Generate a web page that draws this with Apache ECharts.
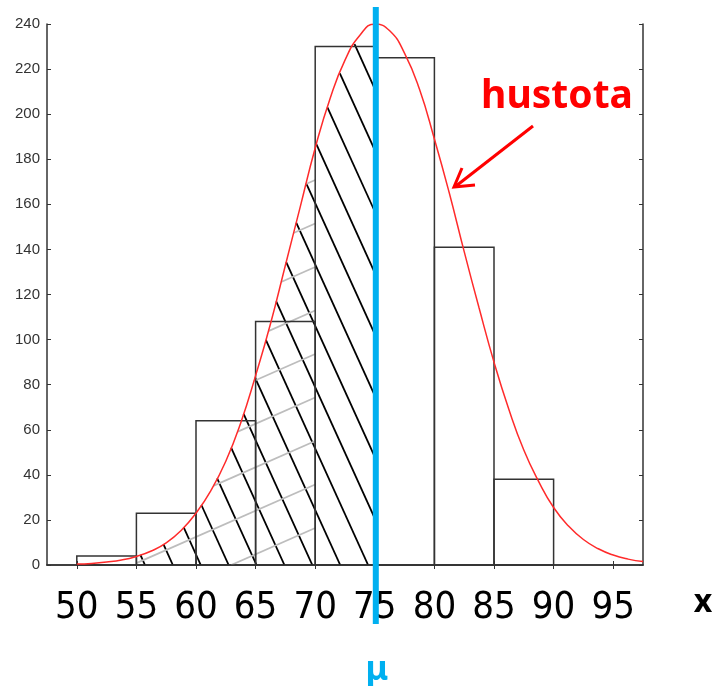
<!DOCTYPE html>
<html><head><meta charset="utf-8">
<script src="https://cdn.jsdelivr.net/npm/echarts@6/dist/echarts.min.js"></script>
<style>html,body{margin:0;padding:0;background:#fff}#c{width:713px;height:686px}</style>
</head><body><div id="c"></div>
<script>
// histogram bins
const binStart = [50, 55, 60, 65, 70, 75, 80, 85];
const binEnd   = [55, 60, 65, 70, 75, 80, 85, 90];
const counts   = [4, 23, 64, 108, 230, 225, 141, 38];
// density curve
const curveX = [50, 51.25, 52.5, 53.75, 55, 56.25, 57.5, 58.75, 60, 61.25, 62.5, 63.75, 65, 66.25, 67.5, 68.75, 70, 71.25, 72.5, 73.75, 75, 76.25, 77.5, 78.75, 80, 81.25, 82.5, 83.75, 85, 86.25, 87.5, 88.75, 90, 91.25, 92.5, 93.75, 95, 96.25, 97.5];
const curveY = [0.4, 0.7, 1.3, 2.2, 3.8, 6.2, 9.8, 15.3, 23, 33, 46, 63, 84, 107, 133, 159, 185, 207, 224, 235, 240, 237, 227, 211, 189, 165, 139, 114, 90, 69, 51, 37, 25.5, 17.3, 11.3, 7.2, 4.4, 2.6, 1.5];
// axis ticks
const xTicks = [50, 55, 60, 65, 70, 75, 80, 85, 90, 95];
const yMin = 0, yMax = 240, yStep = 20;
const xMin = 47.5, xMax = 97.5;
const mu = 75;
// shaded regions
const blackFrom = 55, blackTo = 75;
const grayFrom = 55, grayTo = 70;
const blackBottoms = [55.72, 58.06, 60.4, 62.74, 65.08, 67.42, 69.76, 72.1, 74.44, 76.78, 79.12, 81.46, 83.8, 86.14, 88.48, 90.82, 93.16, 95.5];
const grayAt70 = [-2.9, 16.4, 35.7, 55, 74.3, 93.6, 112.9, 132.2, 151.5, 170.8];

const chart = echarts.init(document.getElementById('c'));

function cross(a, b) { return a[0] * b[1] - a[1] * b[0]; }
function clipLine(A, D, poly) {
  const ts = [];
  for (let i = 0; i < poly.length; i++) {
    const E0 = poly[i], E1 = poly[(i + 1) % poly.length];
    const F = [E1[0] - E0[0], E1[1] - E0[1]];
    const den = cross(D, F);
    if (Math.abs(den) < 1e-9) continue;
    const W = [E0[0] - A[0], E0[1] - A[1]];
    const t = cross(W, F) / den;
    const s = cross(W, D) / den;
    if (s >= 0 && s < 1) ts.push(t);
  }
  ts.sort((a, b) => a - b);
  const segs = [];
  for (let i = 0; i + 1 < ts.length; i += 2) {
    segs.push([[A[0] + ts[i] * D[0], A[1] + ts[i] * D[1]], [A[0] + ts[i + 1] * D[0], A[1] + ts[i + 1] * D[1]]]);
  }
  return segs;
}
function regionPoly(api, from, to) {
  const poly = [api.coord([from, 0])];
  for (let i = 0; i < curveX.length; i++) {
    if (curveX[i] >= from && curveX[i] <= to) poly.push(api.coord([curveX[i], curveY[i]]));
  }
  poly.push(api.coord([to, 0]));
  return poly;
}

const labelFont = '"Liberation Sans Narrow", "DejaVu Sans Condensed", "Noto Sans"';

const option = {
  animation: false,
  backgroundColor: '#fff',
  grid: { left: 47, right: 70, top: 24, bottom: 121 },
  xAxis: [
    {
      type: 'value', min: xMin, max: xMax, position: 'bottom',
      axisLine: { show: true, lineStyle: { color: '#333', width: 1.5 } },
      axisTick: { show: true, inside: true, length: 4, customValues: xTicks, lineStyle: { color: '#333' } },
      axisLabel: { show: true, customValues: xTicks, margin: 24, fontFamily: labelFont, fontSize: 38, color: '#000' },
      splitLine: { show: false }
    },
    {
      type: 'value', min: xMin, max: xMax, position: 'top',
      axisLine: { show: true, lineStyle: { color: '#333', width: 1.5 } },
      axisTick: { show: true, inside: true, length: 4, customValues: xTicks, lineStyle: { color: '#333' } },
      axisLabel: { show: false },
      splitLine: { show: false }
    }
  ],
  yAxis: [
    {
      type: 'value', min: yMin, max: yMax, interval: yStep, position: 'left',
      axisLine: { show: true, lineStyle: { color: '#333', width: 1.5 } },
      axisTick: { show: true, inside: true, length: 4, lineStyle: { color: '#333' } },
      axisLabel: { margin: 7, fontFamily: 'Liberation Sans', fontSize: 15, color: '#333' },
      splitLine: { show: false }
    },
    {
      type: 'value', min: yMin, max: yMax, interval: yStep, position: 'right',
      axisLine: { show: true, lineStyle: { color: '#333', width: 1.5 } },
      axisTick: { show: true, inside: true, length: 4, lineStyle: { color: '#333' } },
      axisLabel: { show: false },
      splitLine: { show: false }
    }
  ],
  series: [
    {
      type: 'custom', name: 'hatch', silent: true, clip: true, z: 1,
      data: [[blackFrom, 0]],
      renderItem: function (params, api) {
        const children = [];
        const pb = regionPoly(api, blackFrom, blackTo);
        blackBottoms.forEach(function (bx) {
          const A = api.coord([bx, 0]);
          clipLine(A, [1, 2.2], pb).forEach(function (s) {
            children.push({ type: 'line', shape: { x1: s[0][0], y1: s[0][1], x2: s[1][0], y2: s[1][1] }, style: { stroke: '#000', lineWidth: 1.8 } });
          });
        });
        const pg = regionPoly(api, grayFrom, grayTo);
        grayAt70.forEach(function (gy) {
          const A = api.coord([grayTo, gy]);
          clipLine(A, [1, -0.44], pg).forEach(function (s) {
            children.push({ type: 'line', shape: { x1: s[0][0], y1: s[0][1], x2: s[1][0], y2: s[1][1] }, style: { stroke: '#bdbdbd', lineWidth: 1.8 } });
          });
        });
        return { type: 'group', children: children };
      }
    },
    {
      type: 'custom', name: 'bars', silent: true, z: 2,
      data: binStart.map(function (s, i) { return [s, binEnd[i], counts[i]]; }),
      encode: { x: [0, 1], y: 2 },
      renderItem: function (params, api) {
        const p0 = api.coord([api.value(0), api.value(2)]);
        const p1 = api.coord([api.value(1), 0]);
        return { type: 'rect', shape: { x: p0[0], y: p0[1], width: p1[0] - p0[0], height: p1[1] - p0[1] }, style: { fill: 'none', stroke: '#333', lineWidth: 1.5 } };
      }
    },
    {
      type: 'line', name: 'hustota', z: 3, silent: true,
      data: curveX.map(function (x, i) { return [x, curveY[i]]; }),
      smooth: true, showSymbol: false, symbol: 'none',
      lineStyle: { color: '#ff2b2b', width: 1.5 }
    },
    {
      type: 'custom', name: 'mu', silent: true, clip: false, z: 10,
      data: [[mu, yMax]],
      renderItem: function (params, api) {
        const top = api.coord([api.value(0), yMax]);
        const bot = api.coord([api.value(0), 0]);
        const x = top[0] + 1;
        return {
          type: 'group', children: [
            { type: 'line', shape: { x1: x, y1: top[1] - 17, x2: x, y2: bot[1] + 59 }, style: { stroke: '#00b0f0', lineWidth: 6 } },
            { type: 'text', x: x + 1, y: bot[1] + 105, style: { text: 'μ', fill: '#00b0f0', font: 'bold 34px "Noto Sans"', align: 'center', verticalAlign: 'middle' } }
          ]
        };
      }
    }
  ],
  graphic: [
    { type: 'text', x: 557, y: 97, style: { text: 'hustota', fill: '#ff0000', font: 'bold 39px "Noto Sans"', align: 'center', verticalAlign: 'middle' } },
    { type: 'line', shape: { x1: 533, y1: 126, x2: 456, y2: 186 }, style: { stroke: '#ff0000', lineWidth: 3 } },
    { type: 'polyline', shape: { points: [[462, 168], [454, 187], [475, 185]] }, style: { stroke: '#ff0000', lineWidth: 3, fill: 'none' } },
    { type: 'text', x: 703, y: 603, style: { text: 'x', fill: '#000', font: 'bold 32px "Noto Sans"', align: 'center', verticalAlign: 'middle' } }
  ]
};
chart.setOption(option);
</script>
</body></html>
